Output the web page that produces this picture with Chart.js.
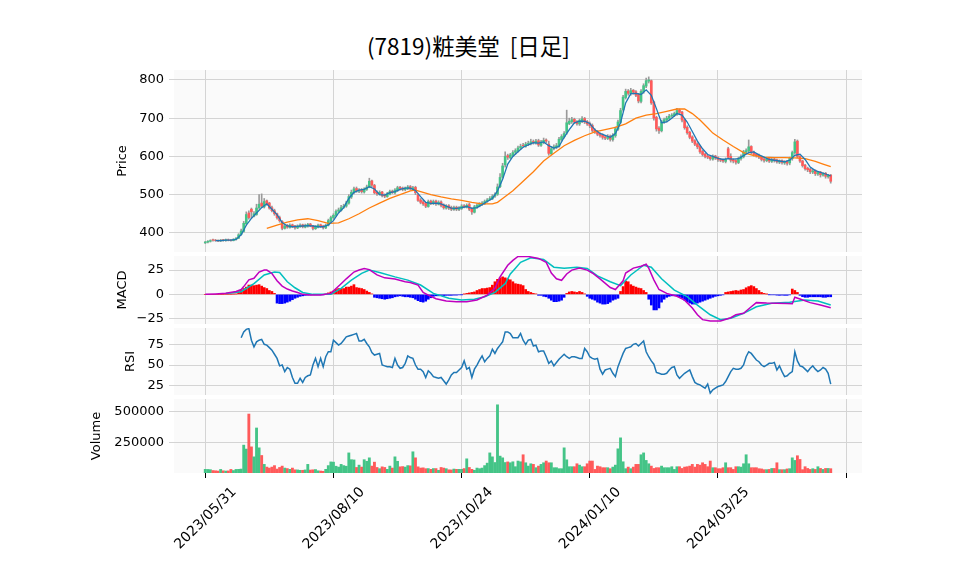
<!DOCTYPE html>
<html>
<head>
<meta charset="utf-8">
<script src="https://cdn.jsdelivr.net/npm/chart.js@4.4.0/dist/chart.umd.min.js"></script>
<style>
  body { margin: 0; background: #fff; width: 958px; height: 575px; overflow: hidden; position: relative; }
  canvas { position: absolute; left: 0; }
  #title { position: absolute; top: 34px; left: 0; width: 937px; text-align: center;
           font-family: "Noto Sans CJK JP", sans-serif; font-size: 22.5px; line-height: 1; color: #000; }
</style>
</head>
<body>
<div id="title">(7819)粧美堂&nbsp;&nbsp;[日足]</div>
<canvas id="price"></canvas>
<canvas id="macd"></canvas>
<canvas id="rsi"></canvas>
<canvas id="volume"></canvas>
<script>
// x axis: trading day index, ticks every 50 days
const tickDays = [0, 50, 100, 150, 200, 250];
const tickLabels = ['2023/05/31', '2023/08/10', '2023/10/24', '2024/01/10', '2024/03/25', ''];

// daily candles
const opens = [
  374, 376, 378, 382, 381, 380, 379, 382, 380, 382,
  381, 380, 383, 386, 396, 404, 424, 452, 462, 444,
  448, 466, 478, 468, 484, 478, 466, 458, 450, 440,
  430, 412, 420, 414, 421, 418, 413, 417, 421, 415,
  418, 423, 418, 411, 415, 421, 418, 413, 420, 431,
  440, 446, 457, 459, 467, 470, 478, 494, 506, 516,
  509, 513, 507, 514, 520, 536, 524, 506, 501, 507,
  499, 495, 501, 509, 505, 511, 519, 517, 513, 516,
  521, 514, 519, 500, 486, 481, 477, 469, 483, 477,
  483, 475, 481, 473, 465, 471, 466, 461, 467, 461,
  464, 471, 467, 474, 462, 454, 467, 471, 476, 477,
  483, 487, 489, 496, 501, 521, 546, 578, 602, 597,
  603, 611, 614, 623, 629, 627, 633, 635, 639, 635,
  641, 629, 637, 643, 632, 607, 621, 624, 627, 644,
  651, 662, 686, 691, 697, 691, 685, 693, 699, 691,
  686, 681, 669, 665, 659, 656, 651, 647, 653, 644,
  654, 671, 689, 722, 754, 771, 764, 773, 769, 762,
  744, 769, 784, 797, 798, 742, 702, 674, 667, 689,
  695, 699, 706, 707, 711, 721, 716, 696, 676, 663,
  651, 641, 633, 626, 613, 606, 601, 599, 593, 601,
  597, 591, 591, 587, 620, 600, 591, 589, 584, 594,
  599, 611, 614, 626, 611, 606, 603, 599, 593, 589,
  595, 587, 593, 591, 585, 589, 583, 587, 583, 594,
  610, 640, 600, 588, 577, 569, 566, 559, 563, 554,
  559, 551, 556, 547, 551
];
const highs = [
  378, 380, 382, 384, 383, 382, 383, 383, 384, 384,
  383, 385, 388, 398, 410, 430, 455, 458, 465, 456,
  475, 500, 502, 490, 486, 480, 470, 462, 452, 444,
  432, 422, 422, 424, 423, 420, 421, 424, 423, 423,
  425, 425, 420, 419, 423, 423, 420, 423, 436, 444,
  450, 460, 465, 472, 475, 483, 500, 512, 520, 520,
  516, 516, 518, 525, 543, 538, 527, 510, 510, 509,
  502, 506, 512, 512, 516, 522, 522, 520, 520, 524,
  524, 522, 522, 502, 490, 485, 480, 486, 486, 486,
  486, 484, 484, 476, 474, 474, 470, 470, 470, 469,
  474, 474, 476, 478, 466, 472, 476, 479, 482, 486,
  490, 495, 500, 505, 528, 555, 582, 612, 606, 608,
  615, 620, 627, 632, 634, 637, 640, 645, 643, 645,
  645, 642, 648, 646, 640, 626, 630, 634, 650, 657,
  665, 721, 700, 702, 700, 694, 698, 704, 702, 694,
  690, 685, 672, 668, 662, 659, 655, 657, 656, 660,
  677, 695, 726, 760, 776, 775, 778, 775, 772, 765,
  775, 790, 805, 808, 800, 745, 705, 678, 695, 700,
  705, 710, 712, 716, 726, 724, 718, 698, 680, 666,
  654, 644, 636, 629, 616, 609, 604, 602, 604, 603,
  599, 595, 594, 596, 624, 607, 594, 592, 598, 604,
  616, 620, 643, 628, 614, 608, 606, 601, 596, 597,
  597, 595, 596, 593, 591, 591, 589, 590, 598, 614,
  645, 643, 602, 590, 579, 572, 569, 566, 565, 561,
  561, 558, 558, 553, 553
];
const lows = [
  372, 374, 376, 378, 378, 377, 377, 378, 378, 379,
  378, 379, 381, 385, 394, 402, 420, 436, 438, 442,
  446, 462, 466, 465, 472, 462, 455, 446, 436, 428,
  408, 410, 412, 412, 414, 410, 411, 414, 413, 413,
  415, 416, 408, 409, 413, 414, 410, 411, 418, 428,
  436, 443, 454, 457, 464, 467, 475, 490, 502, 506,
  505, 504, 504, 511, 518, 520, 502, 498, 499, 494,
  492, 493, 499, 503, 502, 508, 512, 510, 510, 513,
  512, 511, 500, 482, 476, 472, 466, 467, 474, 474,
  472, 473, 468, 462, 462, 461, 458, 459, 458, 458,
  461, 465, 465, 458, 448, 452, 464, 468, 472, 474,
  480, 485, 487, 493, 498, 518, 543, 572, 592, 594,
  600, 606, 611, 619, 624, 624, 628, 630, 632, 632,
  626, 626, 633, 636, 603, 604, 617, 620, 624, 640,
  648, 658, 683, 686, 686, 682, 681, 688, 686, 681,
  675, 664, 660, 654, 650, 645, 644, 644, 640, 640,
  650, 668, 686, 718, 750, 760, 760, 763, 756, 740,
  740, 765, 780, 792, 736, 695, 666, 660, 664, 686,
  690, 695, 702, 704, 707, 712, 690, 671, 658, 646,
  636, 628, 620, 608, 601, 596, 594, 590, 590, 592,
  587, 586, 584, 583, 594, 585, 583, 580, 581, 590,
  596, 608, 612, 606, 601, 598, 594, 588, 585, 586,
  584, 584, 585, 582, 581, 580, 579, 577, 578, 590,
  606, 596, 584, 572, 564, 560, 555, 555, 550, 550,
  546, 548, 543, 543, 530
];
const closes = [
  376, 378, 380, 381, 380, 379, 381, 380, 382, 381,
  380, 383, 386, 395, 405, 425, 448, 440, 455, 450,
  465, 475, 470, 482, 476, 465, 458, 450, 440, 432,
  412, 418, 415, 420, 417, 414, 418, 420, 416, 419,
  422, 418, 412, 416, 420, 417, 414, 420, 432, 440,
  446, 456, 460, 466, 470, 478, 495, 506, 515, 510,
  512, 508, 515, 520, 535, 525, 505, 502, 506, 498,
  496, 502, 508, 506, 512, 518, 516, 514, 517, 520,
  515, 518, 505, 485, 480, 476, 470, 482, 478, 482,
  476, 480, 472, 466, 470, 465, 462, 466, 462, 465,
  470, 468, 472, 462, 455, 468, 472, 475, 478, 482,
  486, 490, 495, 500, 520, 545, 575, 600, 598, 604,
  610, 615, 622, 626, 628, 632, 634, 638, 636, 640,
  630, 638, 642, 640, 608, 620, 625, 628, 645, 652,
  660, 688, 692, 696, 690, 686, 694, 698, 690, 685,
  680, 668, 664, 658, 655, 650, 648, 652, 645, 655,
  672, 690, 720, 755, 770, 765, 772, 768, 760, 745,
  770, 785, 798, 800, 740, 700, 672, 668, 690, 696,
  700, 705, 708, 712, 720, 715, 695, 675, 662, 650,
  640, 632, 625, 612, 605, 600, 598, 594, 600, 596,
  592, 590, 588, 592, 598, 590, 588, 585, 595, 600,
  612, 615, 625, 610, 605, 602, 598, 592, 590, 594,
  588, 592, 590, 586, 588, 584, 586, 582, 595, 610,
  638, 600, 588, 576, 568, 565, 560, 562, 555, 558,
  552, 555, 548, 550, 535
];
const volumes = [
  30000, 29000, 27000, 20000, 18000, 16000, 29000, 18000, 16000, 17000,
  29000, 20000, 29000, 30000, 32000, 226000, 194000, 478000, 212000, 131000,
  365000, 204000, 142000, 70000, 48000, 40000, 48000, 60000, 32000, 45000,
  56000, 40000, 36000, 30000, 40000, 26000, 25000, 22000, 22000, 25000,
  70000, 24000, 26000, 28000, 18000, 16000, 14000, 30000, 60000, 90000,
  88000, 55000, 48000, 70000, 60000, 55000, 163000, 108000, 106000, 45000,
  64000, 48000, 108000, 95000, 123000, 56000, 88000, 45000, 35000, 50000,
  45000, 30000, 56000, 40000, 131000, 95000, 50000, 52000, 48000, 60000,
  58000, 172000, 123000, 50000, 40000, 42000, 35000, 36000, 30000, 36000,
  36000, 22000, 45000, 40000, 35000, 26000, 25000, 32000, 30000, 30000,
  30000, 36000, 115000, 45000, 30000, 22000, 40000, 35000, 40000, 60000,
  80000, 163000, 131000, 85000, 553000, 137000, 123000, 85000, 90000, 83000,
  91000, 51000, 97000, 91000, 148000, 83000, 56000, 75000, 70000, 43000,
  56000, 70000, 83000, 97000, 83000, 83000, 43000, 43000, 35000, 35000,
  204000, 107000, 51000, 51000, 51000, 75000, 64000, 51000, 51000, 75000,
  97000, 97000, 29000, 56000, 51000, 43000, 43000, 43000, 35000, 48000,
  64000, 196000, 285000, 91000, 35000, 48000, 35000, 48000, 70000, 70000,
  148000, 163000, 102000, 75000, 56000, 37000, 43000, 43000, 56000, 43000,
  43000, 43000, 51000, 29000, 51000, 51000, 37000, 48000, 51000, 56000,
  70000, 48000, 70000, 64000, 83000, 70000, 51000, 97000, 43000, 43000,
  35000, 35000, 43000, 83000, 43000, 43000, 29000, 51000, 51000, 48000,
  75000, 148000, 75000, 43000, 43000, 43000, 35000, 33000, 27000, 27000,
  29000, 37000, 37000, 83000, 27000, 27000, 27000, 33000, 35000, 123000,
  102000, 140000, 110000, 27000, 51000, 37000, 29000, 35000, 29000, 51000,
  37000, 29000, 37000, 37000, 35000
];

// moving averages
const ma5Days = [
  4, 6, 8, 10, 12, 14, 16, 18, 20, 22, 24, 26, 28, 30, 32, 34, 36, 38, 40, 42,
  44, 46, 48, 50, 52, 54, 56, 58, 60, 62, 64, 66, 68, 70, 72, 74, 76, 78, 80, 82,
  84, 86, 88, 90, 92, 94, 96, 98, 100, 102, 104, 106, 108, 110, 112, 114, 116, 118, 120, 122,
  124, 126, 128, 130, 132, 134, 136, 138, 140, 142, 144, 146, 148, 150, 152, 154, 156, 158, 160, 162,
  164, 166, 168, 170, 172, 174, 176, 178, 180, 182, 184, 186, 188, 190, 192, 194, 196, 198, 200, 202,
  204, 206, 208, 210, 212, 214, 216, 218, 220, 222, 224, 226, 228, 230, 232, 234, 236, 238, 240, 242, 244
];
const ma5Vals = [
  380, 380, 381, 381, 383, 395, 420, 438, 452, 466, 476, 462, 448, 427, 418, 416, 417, 418, 419, 418,
  416, 416, 421, 432, 452, 466, 490, 506, 512, 514, 521, 515, 500, 499, 505, 508, 514, 517, 517, 511,
  495, 480, 477, 478, 476, 470, 465, 464, 466, 469, 464, 466, 474, 482, 490, 510, 540, 580, 600, 612,
  624, 630, 636, 635, 638, 628, 622, 626, 650, 670, 688, 692, 692, 686, 670, 660, 655, 650, 660, 688,
  740, 764, 765, 762, 774, 760, 725, 688, 690, 700, 712, 708, 690, 665, 640, 620, 605, 600, 595, 592,
  594, 593, 594, 602, 610, 612, 604, 598, 592, 590, 588, 586, 590, 603, 606, 592, 572, 563, 558, 554, 549
];
const ma25Days = [
  24, 28, 32, 36, 40, 44, 48, 52, 56, 60, 64, 68, 72, 76, 80, 82, 84, 88, 92, 96,
  100, 104, 108, 112, 114, 116, 120, 124, 128, 132, 136, 140, 144, 148, 152, 156, 160, 164, 168, 172,
  176, 180, 184, 187, 190, 193, 196, 198, 202, 206, 210, 214, 218, 222, 226, 230, 234, 238, 241, 244
];
const ma25Vals = [
  412, 420, 428, 434, 437, 432, 425, 426, 437, 450, 465, 478, 490, 500, 510, 512, 508, 500, 494, 489,
  485, 480, 476, 476, 480, 490, 510, 535, 560, 588, 608, 628, 642, 654, 664, 670, 676, 685, 700, 708,
  712, 718, 724, 724, 712, 695, 675, 661, 643, 626, 610, 602, 598, 597, 597, 596, 594, 587, 580, 573
];

// MACD (12, 26, 9)
const macdDays = [
  0, 4, 8, 12, 14, 15, 17, 19, 21, 23, 24, 26, 28, 30, 32, 34, 36, 38, 41, 45,
  49, 51, 53, 55, 58, 60, 62, 64, 67, 70, 74, 78, 80, 83, 85, 87, 90, 94, 98, 102,
  106, 110, 113, 115, 118, 120, 122, 126, 130, 133, 135, 137, 139, 141, 143, 146, 149, 151, 154, 158,
  160, 163, 164, 167, 170, 172, 173, 175, 177, 180, 184, 187, 190, 192, 194, 197, 201, 205, 207, 210,
  213, 215, 219, 223, 227, 229, 230, 232, 236, 240, 244
];
const macdVals = [
  0, 0.5, 1.2, 3, 5, 8, 15, 16.5, 23, 25, 25, 21.5, 14, 8.5, 5.5, 3.5, 2, 0, -0.7, -0.7,
  1, 6, 11, 16, 23, 25, 26.5, 25.5, 20, 17, 15.8, 13, 12.3, 9.6, 2, -0.7, -4.5, -6.8, -7.5, -7.5,
  -5.8, -0.7, 6.2, 18, 30, 35, 39, 39, 37, 33, 22, 16, 14.5, 21, 25, 27, 25, 22, 16, 7,
  5, 14, 22, 27, 29, 31, 27, 15, 5, 1, -2, -6, -14, -21, -26, -27.4, -27.4, -24, -21, -19.5,
  -12.7, -8.5, -9, -9.2, -9.5, -9.6, -3, -4.8, -8.5, -11, -13.7
];
const signalDays = [
  8, 14, 19, 23, 27, 29, 32, 35, 38, 42, 49, 53, 57, 61, 64, 68, 74, 79, 84, 89,
  95, 100, 105, 109, 113, 117, 119, 121, 123, 127, 132, 136, 140, 145, 149, 153, 158, 162, 166, 171,
  174, 178, 183, 188, 192, 197, 201, 205, 210, 215, 221, 228, 234, 239, 244
];
const signalVals = [
  1, 2.7, 11, 20, 23, 22.6, 13, 6.8, 2, 0, 0, 6.2, 14.7, 21.6, 25, 22.6, 18, 14.7, 9.6, 1,
  -4, -5.8, -5, -2.4, 2, 11, 21, 27, 33, 37.6, 36, 28, 27, 28, 26.7, 19, 13, 9, 20, 30,
  28, 16, 4.4, -2.4, -11, -21, -26, -24.6, -19.5, -12.7, -9.2, -8.2, -5.8, -6.8, -11
];
const histVals = [
  0, 0, 0, 0, 0, 0, 0, 0, 0.1, 0.1,
  0.1, 0.2, 0.3, 2.7, 4, 6, 7.5, 9.6, 9.6, 9,
  9.5, 10, 8.5, 7, 6, 4, 3, 1, -9, -9.5,
  -9.5, -9, -8, -7, -5.5, -4, -3, -2, -1.5, -1,
  -0.8, -0.6, -0.5, -0.4, -0.4, -0.3, -0.2, 0.3, 1.5, 2.5,
  3.4, 5, 6, 6, 6, 7.5, 7.5, 8.5, 10, 7,
  6.5, 6, 5, 3.4, 2, 0.5, -3, -3.5, -4, -4.5,
  -5, -4.5, -4, -3.5, -2.5, -2, -1.5, -2, -2.5, -2.5,
  -3, -3.5, -5, -6.5, -7.5, -8, -7, -5, -3.5, -2,
  -1.5, -1.5, -1.2, -1.2, -1, -1, -1, -0.8, -0.8, -0.5,
  -0.3, 0.3, 1, 1.5, 2, 2.5, 4, 5, 6, 6,
  6.5, 7, 9.5, 13, 15.5, 17, 18, 17, 16, 15,
  13, 11, 10.5, 10, 9, 5, 3, 2, 1, 0.5,
  -1, -1, -2, -2.5, -4, -6, -7.5, -7.5, -7, -6,
  -3, 1, 2.5, 3, 2.5, 2, 3, 2, 0.5, -2,
  -4, -5, -6, -8, -9, -10, -10, -9.5, -8, -6,
  -5, -4, 3, 8, 13.7, 13, 10, 8.5, 7.5, 6.5,
  6, 4, 2, -5, -11, -16, -16, -14, -8, -5,
  -3, -2, -1.5, -1.5, -1.5, -2.5, -4, -6, -7.5, -9,
  -10, -10, -9, -8, -7, -6, -5, -4, -3, -2,
  -1.5, -1, -0.5, 2, 2.5, 3, 3.5, 4, 3.5, 4.5,
  5, 6.8, 8, 9, 8, 6, 4, 2, 1, 0.3,
  -0.3, -0.5, -0.5, -0.8, -1, -0.8, -1, -1, -0.5, 5.5,
  4, 2, -1, -2.4, -3, -3, -2.5, -2.5, -2.5, -2.5,
  -2.5, -3, -3, -2.5, -2.5
];

// RSI (14), first 14 days empty
const rsiVals = [
  null, null, null, null, null, null, null, null, null, null,
  null, null, null, null, 83, 90, 93, 94, 80, 72,
  78, 80, 81, 75, 74, 71, 68, 63, 58, 49,
  50, 42, 47, 45, 35, 28, 28, 34, 29, 35,
  37, 38, 50, 58, 48, 58, 48, 60, 66, 66,
  80, 77, 74, 76, 80, 84, 85, 86, 87, 88,
  79, 79, 81, 76, 72, 65, 62, 63, 64, 50,
  49, 48, 48, 47, 58, 50, 46, 47, 52, 61,
  59, 58, 50, 45, 45, 42, 35, 43, 40, 36,
  35, 34, 35, 31, 27, 32, 38, 41, 41, 44,
  47, 55, 45, 47, 35, 45, 50, 56, 61, 54,
  58, 61, 69, 64, 70, 74, 78, 90, 90, 88,
  83, 83, 83, 88, 80, 75, 80, 81, 73, 74,
  66, 67, 67, 60, 52, 55, 49, 53, 57, 60,
  63, 60, 58, 60, 60, 59, 58, 58, 70, 66,
  60, 58, 57, 58, 45, 39, 44, 45, 46, 40,
  36, 48, 56, 64, 70, 71, 72, 75, 76, 73,
  76, 79, 66, 60, 55, 51, 41, 40, 39, 39,
  40, 44, 47, 48, 38, 34, 37, 40, 42, 44,
  36, 29, 27, 26, 24, 22, 27, 16, 20, 22,
  24, 25, 26, 30, 36, 42, 46, 45, 45, 46,
  50, 60, 66, 64, 60, 56, 54, 50, 48, 50,
  52, 52, 53, 44, 49, 42, 36, 37, 40, 42,
  66, 55, 49, 48, 45, 42, 46, 49, 45, 42,
  44, 47, 45, 40, 27
];

// ---------- drawing ----------
const FONT = { family: '"DejaVu Sans", sans-serif', size: 13 };
const XFONT = { family: '"DejaVu Sans", sans-serif', size: 14 };
const GRID = '#d4d4d4';
const GREEN = '#44c487';
const RED = '#ff5a5a';
const PLOT_LEFT = 174;
const PLOT_RIGHT = 862;
const X_MIN = -12.2;
const X_MAX = 256.2;

const days = closes.map((c, i) => i);
const isUp = i => closes[i] >= opens[i];
const pts = (xs, ys) => xs.map((x, k) => ({ x: x, y: ys[k] }));

const panelBg = {
  id: 'panelBg',
  beforeDraw(chart) {
    const { ctx, chartArea: a } = chart;
    ctx.save();
    ctx.fillStyle = '#fafafa';
    ctx.fillRect(a.left, a.top, a.right - a.left, a.bottom - a.top);
    ctx.restore();
  }
};

function lineSet(data, color, width, order) {
  return { type: 'line', data: data, borderColor: color, borderWidth: width,
           pointRadius: 0, fill: false, tension: 0, order: order };
}

function noPad(s) {
  s.paddingTop = 0; s.paddingBottom = 0; s.paddingLeft = 0; s.paddingRight = 0;
}

function makePanel(id, top, bottom, name, nameX, yMin, yMax, yTicks, yFmt, datasets, bottomAxis) {
  const cv = document.getElementById(id);
  const h = bottomAxis ? 575 - top : bottom - top;
  cv.width = 958;
  cv.height = h;
  cv.style.top = top + 'px';
  const padLeft = nameX - 8;
  return new Chart(cv, {
    type: 'bar',
    data: { datasets: datasets },
    options: {
      responsive: false,
      animation: false,
      events: [],
      layout: { padding: { left: padLeft, right: 958 - PLOT_RIGHT, top: 0, bottom: 0 } },
      plugins: { legend: { display: false }, tooltip: { enabled: false } },
      scales: {
        x: {
          type: 'linear', min: X_MIN, max: X_MAX, offset: false,
          afterBuildTicks: s => { s.ticks = tickDays.map(v => ({ value: v })); },
          grid: { color: GRID, offset: false, drawTicks: bottomAxis, tickLength: 5, tickColor: '#000' },
          border: { display: false },
          ticks: {
            display: bottomAxis, autoSkip: false, maxRotation: 45, minRotation: 45,
            font: XFONT, color: '#000', padding: 6, labelOffset: 29,
            callback: v => tickLabels[tickDays.indexOf(v)] || ''
          },
          afterFit: s => { s.height = bottomAxis ? 575 - bottom : 0; noPad(s); }
        },
        y: {
          min: yMin, max: yMax,
          afterBuildTicks: s => { s.ticks = yTicks.map(v => ({ value: v })); },
          grid: { color: GRID, tickLength: 5, tickColor: GRID },
          border: { display: false },
          ticks: { font: FONT, color: '#000', padding: 5, callback: yFmt },
          title: { display: true, text: name, font: FONT, color: '#000', padding: 0 },
          afterFit: s => { s.width = PLOT_LEFT - padLeft; noPad(s); }
        }
      }
    },
    plugins: [panelBg]
  });
}

const plain = v => String(v);
const minus = v => (v < 0 ? '\u2212' + Math.abs(v) : String(v));

// price panel: wicks, bodies, moving averages
makePanel('price', 70, 252, 'Price', 123, 350, 826, [400, 500, 600, 700, 800], plain, [
  lineSet(pts(ma5Days, ma5Vals), '#1f77b4', 1.3, 0),
  lineSet(pts(ma25Days, ma25Vals), '#ff7f0e', 1.3, 0),
  { type: 'bar', data: days.map(i => ({ x: i, y: [opens[i], closes[i]] })),
    backgroundColor: days.map(i => (isUp(i) ? GREEN : RED)), barThickness: 2, grouped: false, order: 1 },
  { type: 'bar', data: days.map(i => ({ x: i, y: [lows[i], highs[i]] })),
    backgroundColor: '#9a9a9a', barThickness: 1, grouped: false, order: 2 }
], false);

makePanel('macd', 256, 324, 'MACD', 123, -30.5, 39.5, [-25, 0, 25], minus, [
  lineSet(pts(macdDays, macdVals), '#bf00bf', 1.5, 0),
  lineSet(pts(signalDays, signalVals), '#00bfbf', 1.5, 0),
  { type: 'bar', data: days.map(i => ({ x: i, y: histVals[i] })),
    backgroundColor: days.map(i => (histVals[i] >= 0 ? '#ff0000' : '#0000ff')),
    barThickness: 2, grouped: false, order: 1 }
], false);

makePanel('rsi', 328, 395, 'RSI', 131, 13.8, 94.7, [25, 50, 75], plain, [
  lineSet(days.map(i => ({ x: i, y: rsiVals[i] })), '#1f77b4', 1.5, 0)
], false);

makePanel('volume', 399, 473, 'Volume', 97, 0, 600000, [250000, 500000], plain, [
  { type: 'bar', data: days.map(i => ({ x: i, y: volumes[i] })),
    backgroundColor: days.map(i => (isUp(i) ? GREEN : RED)), barThickness: 2.2, grouped: false }
], true);
</script>
</body>
</html>
